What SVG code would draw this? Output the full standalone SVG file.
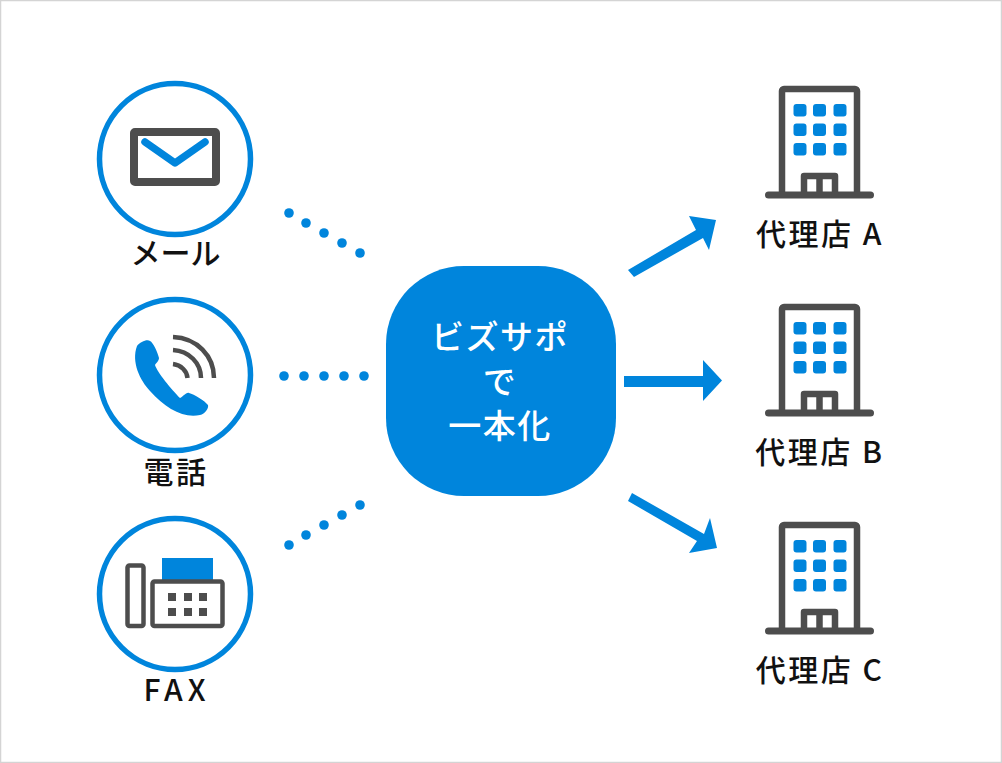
<svg xmlns="http://www.w3.org/2000/svg" width="1002" height="763" viewBox="0 0 1002 763">
<style>
.t{font-family:"Noto Sans CJK JP","Noto Sans",sans-serif;font-size:30px;font-weight:500;fill:#111;text-anchor:middle;letter-spacing:2.500px}
.w{font-family:"Noto Sans CJK JP","Noto Sans",sans-serif;font-size:33px;font-weight:500;fill:#fff;text-anchor:middle;letter-spacing:1.500px}
.c{fill:#fff;stroke:#0085dc;stroke-width:5.500}
.g{fill:none;stroke:#4d4d4d}
.b{fill:#0085dc}
.dot{fill:#0085dc}
</style>
<defs>
<g id="bld">
<path d="M-37.500 106V2a2 2 0 0 1 2-2H35.500a2 2 0 0 1 2 2V106" class="g" stroke-width="6.500"/>
<path d="M-51 106H51" class="g" stroke-width="7" stroke-linecap="round"/>
<path d="M-15.500 106V87H15.500V106M0 87V106" class="g" stroke-width="6.500" stroke-linejoin="round"/>
<g class="b">
<rect x="-26" y="15" width="13" height="12.500" rx="3"/><rect x="-6.500" y="15" width="13" height="12.500" rx="3"/><rect x="14" y="15" width="13" height="12.500" rx="3"/>
<rect x="-26" y="34.500" width="13" height="12.500" rx="3"/><rect x="-6.500" y="34.500" width="13" height="12.500" rx="3"/><rect x="14" y="34.500" width="13" height="12.500" rx="3"/>
<rect x="-26" y="54" width="13" height="12.500" rx="3"/><rect x="-6.500" y="54" width="13" height="12.500" rx="3"/><rect x="14" y="54" width="13" height="12.500" rx="3"/>
</g>
</g>
</defs>
<rect x="0.500" y="0.500" width="1001" height="762" fill="#fff" stroke="#d4d4d4" stroke-width="1.500"/>
<g id="connectors">
<g class="dot">
<circle cx="289" cy="213" r="4.800"/><circle cx="306" cy="223" r="4.800"/><circle cx="324" cy="233" r="4.800"/><circle cx="342" cy="243" r="4.800"/><circle cx="360" cy="253" r="4.800"/>
<circle cx="284" cy="376" r="4.800"/><circle cx="304" cy="376" r="4.800"/><circle cx="324" cy="376" r="4.800"/><circle cx="344" cy="376" r="4.800"/><circle cx="364" cy="376" r="4.800"/>
<circle cx="289" cy="545" r="4.800"/><circle cx="306" cy="535" r="4.800"/><circle cx="324" cy="525" r="4.800"/><circle cx="342" cy="515" r="4.800"/><circle cx="360" cy="505" r="4.800"/>
</g>
<path class="b" d="M628 270 L696 230 L689 216 L716 220 L709 250 L703 238 L634 277Z"/>
<path class="b" d="M624 376H703V360L722 380.500L703 401V387H624Z"/>
<path class="b" d="M632 493 L704 534 L710 518 L717 548 L689 553 L697 541 L628 501Z"/>
</g>
<g id="mail">
<circle class="c" cx="175" cy="159" r="75.500"/>
<rect x="134" y="132" width="82" height="50" rx="1" fill="#fff" stroke="#4d4d4d" stroke-width="8" stroke-linejoin="round"/>
<path d="M145 142L175 163L205 142" fill="none" stroke="#0085dc" stroke-width="7.500" stroke-linecap="round" stroke-linejoin="round"/>
<text class="t" x="175.500" y="264" style="letter-spacing:0">メール</text>
</g>
<g id="phone">
<circle class="c" cx="175" cy="375" r="75.500"/>
<path class="b" d="M137 346C140 342 147 339 150 341C153 342 158 353 159 358C159 361 156 363 155 365C157 372 172 390 180 398C183 397 186 392 189 393C194 394 205 401 208 405C209 408 205 414 200 415C184 419 165 408 150 391C140 380 131 362 137 346Z"/>
<path class="g" stroke-width="4.500" d="M173 364C181 365 187 371 187.500 378M173 350C189 351 201 363 201 378M173 337C197 338 214 356 214 378"/>
<text class="t" x="176" y="483">電話</text>
</g>
<g id="fax">
<circle class="c" cx="175" cy="594" r="75.500"/>
<rect class="b" x="162" y="558" width="51" height="24"/>
<rect x="127.500" y="565.500" width="16" height="60.500" rx="2" fill="#fff" stroke="#4d4d4d" stroke-width="4.500"/>
<rect x="152.500" y="581.500" width="70" height="44.500" rx="2" fill="#fff" stroke="#4d4d4d" stroke-width="4.500"/>
<g fill="#4d4d4d">
<rect x="168" y="593" width="8" height="8"/><rect x="184" y="593" width="8" height="8"/><rect x="199" y="593" width="8" height="8"/>
<rect x="168" y="608" width="8" height="8"/><rect x="184" y="608" width="8" height="8"/><rect x="199" y="608" width="8" height="8"/>
</g>
<text class="t" x="177" y="701" style="letter-spacing:5px">FAX</text>
</g>
<g id="hub">
<rect class="b" x="386" y="266" width="230" height="230" rx="78"/>
<text class="w" x="500" y="349">ビズサポ</text>
<text class="w" x="500" y="394">で</text>
<text class="w" x="500" y="438">一本化</text>
</g>
<g id="agencyA"><use href="#bld" x="819.500" y="89"/><text class="t" x="820" y="245">代理店 A</text></g>
<g id="agencyB"><use href="#bld" x="819.500" y="307"/><text class="t" x="820" y="463">代理店 B</text></g>
<g id="agencyC"><use href="#bld" x="819.500" y="525"/><text class="t" x="820" y="681">代理店 C</text></g>
</svg>
